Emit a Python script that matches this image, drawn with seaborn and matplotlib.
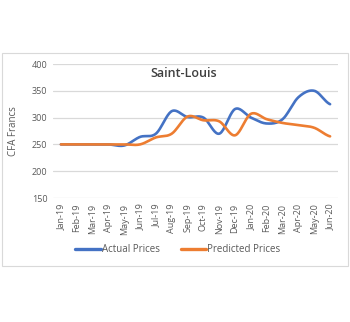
import numpy as np
import pandas as pd
import matplotlib
matplotlib.use("Agg")
import matplotlib.pyplot as plt
from matplotlib.patches import Rectangle
import seaborn as sns

months = ["Jan-19", "Feb-19", "Mar-19", "Apr-19", "May-19", "Jun-19", "Jul-19",
          "Aug-19", "Sep-19", "Oct-19", "Nov-19", "Dec-19", "Jan-20", "Feb-20",
          "Mar-20", "Apr-20", "May-20", "Jun-20"]
actual = [250, 250, 250, 250, 248, 264, 270, 312, 301, 300, 270, 316, 300, 289,
          297, 338, 350, 325]
predicted = [250, 250, 250, 250, 250, 250, 263, 270, 302, 295, 293, 267, 307, 297,
             290, 286, 281, 265]
yticks = [150, 200, 250, 300, 350, 400]


def smooth(vals, steps=20):
    """Catmull-Rom curve through the monthly values (Excel-style smoothed line)."""
    v = np.asarray(vals, dtype=float)
    p = np.concatenate([[v[0]], v, [v[-1]]])
    xs, ys = [], []
    for i in range(len(v) - 1):
        p0, p1, p2, p3 = p[i], p[i + 1], p[i + 2], p[i + 3]
        t = np.linspace(0, 1, steps, endpoint=False)
        y = 0.5 * ((2 * p1) + (-p0 + p2) * t + (2 * p0 - 5 * p1 + 4 * p2 - p3) * t ** 2
                   + (-p0 + 3 * p1 - 3 * p2 + p3) * t ** 3)
        xs.append(i + t)
        ys.append(y)
    xs.append([len(v) - 1])
    ys.append([v[-1]])
    return np.concatenate(xs), np.concatenate(ys)


frames = []
for name, vals in [("Actual Prices", actual), ("Predicted Prices", predicted)]:
    x, y = smooth(vals)
    frames.append(pd.DataFrame({"x": x, "price": y, "series": name}))
df = pd.concat(frames, ignore_index=True)

sns.set_theme(style="white")
plt.rcParams["font.family"] = ["Open Sans", "DejaVu Sans"]

W, H = 350, 322
fig = plt.figure(figsize=(W / 100, H / 100), dpi=100)
fig.patch.set_facecolor("white")
fig.add_artist(Rectangle((2 / W, 1 - 266 / H), 346 / W, 213 / H, transform=fig.transFigure,
                         fill=False, edgecolor="#d9d9d9", linewidth=0.8))

ax = fig.add_axes([53 / W, 1 - 198 / H, 285 / W, 134 / H])
sns.lineplot(data=df, x="x", y="price", hue="series",
             palette={"Actual Prices": "#4472C4", "Predicted Prices": "#ED7D31"},
             linewidth=1.9, ax=ax, sort=False, estimator=None)

ax.set_xlim(-0.5, len(months) - 0.5)
ax.set_ylim(150, 400)
ax.set_yticks(yticks)
ax.set_yticklabels([str(t) for t in yticks], fontsize=6.5, color="#595959")
ax.set_xticks(range(len(months)))
ax.set_xticklabels(months, rotation=90, fontsize=6.5, color="#595959")
ax.tick_params(axis="both", length=0, pad=4)
ax.yaxis.grid(True, color="#d9d9d9", linewidth=0.9)
ax.set_axisbelow(True)
for s in ax.spines.values():
    s.set_visible(False)
ax.set_xlabel("")
ax.set_ylabel("CFA Francs", fontsize=7, color="#595959")
ax.yaxis.set_label_coords((19 - 53) / 285, 0.5)

ax.text(0.46, 0.93, "Saint-Louis", transform=ax.transAxes, ha="center", va="center",
        fontsize=9, color="#404040", fontweight="semibold")

handles, labels = ax.get_legend_handles_labels()
for h in handles:
    h.set_linewidth(2.4)
ax.legend(handles, labels, loc="center", bbox_to_anchor=(178 / W, 1 - 250 / H),
          bbox_transform=fig.transFigure, ncol=2, frameon=False, fontsize=7,
          labelcolor="#595959", handlelength=2.6, handletextpad=0.1, columnspacing=2.2)

fig.savefig("out.png", dpi=100)
